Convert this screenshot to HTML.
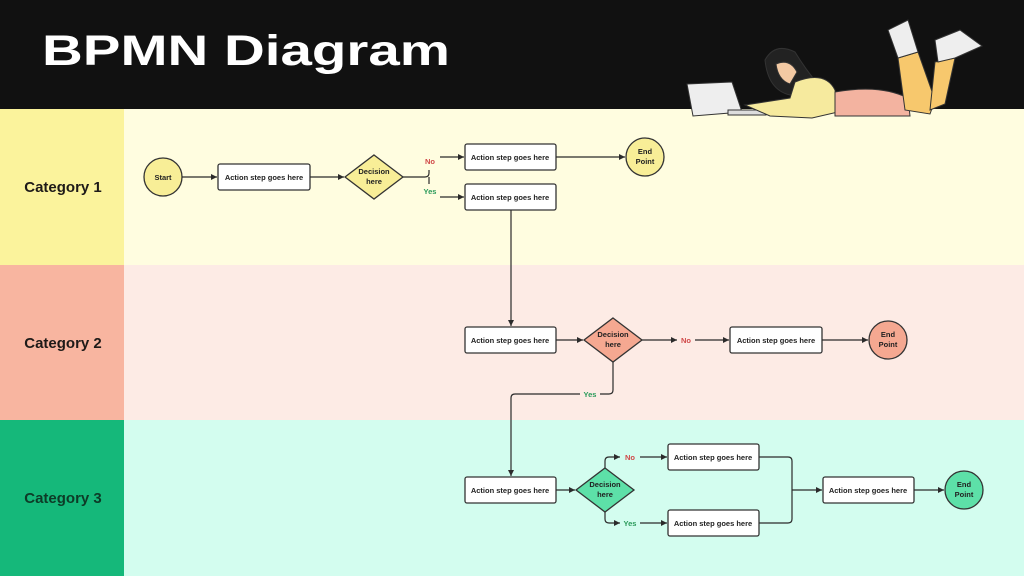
<!DOCTYPE html>
<html><head><meta charset="utf-8"><style>
html,body{margin:0;padding:0;width:1024px;height:576px;overflow:hidden;background:#111}
svg{display:block}
text{font-family:"Liberation Sans",sans-serif;font-weight:bold}
</style></head><body>
<svg width="1024" height="576" viewBox="0 0 1024 576" xmlns="http://www.w3.org/2000/svg">
<defs><marker id="a" markerWidth="6" markerHeight="6" refX="5" refY="3" orient="auto"><path d="M0,0.5 L5,3 L0,5.5z" fill="#2b2b2b"/></marker></defs>
<rect x="0" y="0" width="1024" height="109" fill="#111"/>
<text x="42" y="65" font-size="43" fill="#fff" textLength="408" lengthAdjust="spacingAndGlyphs">BPMN Diagram</text>
<rect x="0" y="109" width="124" height="156" fill="#fbf39c"/>
<rect x="124" y="109" width="900" height="156" fill="#fffde0"/>
<rect x="0" y="265" width="124" height="155" fill="#f8b5a0"/>
<rect x="124" y="265" width="900" height="155" fill="#fdebe5"/>
<rect x="0" y="420" width="124" height="156" fill="#15b87a"/>
<rect x="124" y="420" width="900" height="156" fill="#d3fdef"/>
<g font-size="15" fill="#1e1a18" text-anchor="middle">
<text x="63" y="192">Category 1</text><text x="63" y="348">Category 2</text><text x="63" y="503" fill="#0d3b27">Category 3</text></g>
<!-- illustration -->
<g stroke="#333" stroke-width="1">
<path d="M687 84 L732 82 L742 112 L693 116z" fill="#eee"/>
<rect x="728" y="110" width="38" height="5" fill="#ddd"/>
<path d="M765 60 Q775 42 795 52 Q806 70 818 84 L790 95 Q768 90 765 60z" fill="#222"/>
<path d="M776 64 Q790 58 797 72 L790 84 Q778 80 776 64z" fill="#f3c9a3"/>
<path d="M795 82 Q825 70 835 90 L838 112 L812 118 L770 116 L745 105 L790 98z" fill="#f6ea9e"/>
<path d="M835 92 Q880 84 908 98 L910 116 L835 116z" fill="#f3b3a0"/>
<path d="M898 58 L918 52 L935 100 L930 114 L905 110z" fill="#f7c86d"/>
<path d="M935 62 L955 58 L945 104 L930 110z" fill="#f7c86d"/>
<path d="M888 30 L908 20 L918 52 L898 58z" fill="#eee"/>
<path d="M935 40 L960 30 L982 46 L955 58 L938 62z" fill="#eee"/>
</g>
<g fill="#fff" stroke="#333" stroke-width="1.3">
<rect x="218" y="164" width="92" height="26" rx="2"/>
<rect x="465" y="144" width="91" height="26" rx="2"/>
<rect x="465" y="184" width="91" height="26" rx="2"/>
<rect x="465" y="327" width="91" height="26" rx="2"/>
<rect x="730" y="327" width="92" height="26" rx="2"/>
<rect x="465" y="477" width="91" height="26" rx="2"/>
<rect x="668" y="444" width="91" height="26" rx="2"/>
<rect x="668" y="510" width="91" height="26" rx="2"/>
<rect x="823" y="477" width="91" height="26" rx="2"/>
</g>
<g stroke="#333" stroke-width="1.3">
<circle cx="163" cy="177" r="19" fill="#f8ee97"/>
<circle cx="645" cy="157" r="19" fill="#f8ee97"/>
<path d="M374 155 L403 177 L374 199 L345 177z" fill="#f8ee97"/>
<circle cx="888" cy="340" r="19" fill="#f5a891"/>
<path d="M613 318 L642 340 L613 362 L584 340z" fill="#f5a891"/>
<circle cx="964" cy="490" r="19" fill="#5de0a8"/>
<path d="M605 468 L634 490 L605 512 L576 490z" fill="#5de0a8"/>
</g>
<g stroke="#2b2b2b" stroke-width="1.2" fill="none" marker-end="url(#a)">
<path d="M182 177 H217"/><path d="M310 177 H344"/>
<path d="M440 157 H464"/><path d="M440 197 H464"/>
<path d="M556 157 H625"/>
<path d="M511 210 V326"/>
<path d="M556 340 H583"/><path d="M642 340 H677"/><path d="M695 340 H729"/><path d="M822 340 H868"/>
<path d="M613 362 V390 Q613 394 609 394 H515 Q511 394 511 398 V476"/>
<path d="M556 490 H575"/>
<path d="M605 468 V461 Q605 457 609 457 H620"/><path d="M640 457 H667"/>
<path d="M605 512 V519 Q605 523 609 523 H620"/><path d="M640 523 H667"/>
<path d="M792 490 H822"/><path d="M914 490 H944"/>
</g>
<g stroke="#2b2b2b" stroke-width="1.2" fill="none">
<path d="M403 177 H425 Q429 177 429 173 V170"/><path d="M429 177 Q429 181 429 184"/>
<path d="M759 457 H788 Q792 457 792 461 V519 Q792 523 788 523 H759"/>
</g>
<rect x="580" y="389" width="20" height="10" fill="#fdebe5"/>
<g font-size="7.5" fill="#222" text-anchor="middle">
<text x="264" y="180">Action step goes here</text>
<text x="510" y="160">Action step goes here</text>
<text x="510" y="200">Action step goes here</text>
<text x="510" y="343">Action step goes here</text>
<text x="776" y="343">Action step goes here</text>
<text x="510" y="493">Action step goes here</text>
<text x="713" y="460">Action step goes here</text>
<text x="713" y="526">Action step goes here</text>
<text x="868" y="493">Action step goes here</text>
<text x="163" y="180">Start</text>
<text x="374" y="174">Decision</text><text x="374" y="184">here</text>
<text x="613" y="337">Decision</text><text x="613" y="347">here</text>
<text x="605" y="487">Decision</text><text x="605" y="497">here</text>
<text x="645" y="154">End</text><text x="645" y="164">Point</text>
<text x="888" y="337">End</text><text x="888" y="347">Point</text>
<text x="964" y="487">End</text><text x="964" y="497">Point</text>
<text x="430" y="164" fill="#d04848">No</text>
<text x="430" y="194" fill="#2a9a5a">Yes</text>
<text x="686" y="343" fill="#d04848">No</text>
<text x="590" y="397" fill="#2a9a5a">Yes</text>
<text x="630" y="460" fill="#d04848">No</text>
<text x="630" y="526" fill="#2a9a5a">Yes</text>
</g>
</svg>
</body></html>
